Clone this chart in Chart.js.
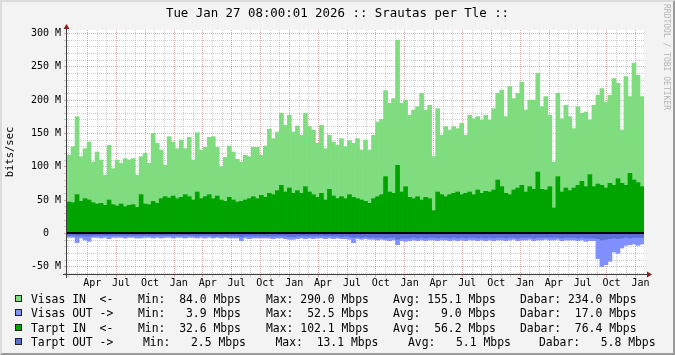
<!DOCTYPE html>
<html>
<head>
<meta charset="utf-8">
<script src="https://cdn.jsdelivr.net/npm/chart.js@4.4.1/dist/chart.umd.min.js"></script>
<style>
  html, body { margin: 0; padding: 0; background: #f3f3f3; }
  #wrap { position: relative; width: 675px; height: 355px; overflow: hidden; background: #f3f3f3;
          font-family: 'DejaVu Sans Mono', monospace; color: #000; }
  #chart { position: absolute; left: 0; top: 0; }
  #title { position: absolute; left: 0; top: 5px; width: 675px; text-align: center;
           font-size: 12.4px; line-height: 16px; white-space: pre; }
  #wm { position: absolute; left: 662px; top: 4px; font-size: 8px; color: #b4b4b4;
        writing-mode: vertical-rl; white-space: pre; }
  .row { position: absolute; left: 0; width: 675px; height: 14px; font-size: 11.4px;
         line-height: 14px; white-space: pre; }
  .row span { position: absolute; top: 0; }
  .row i { position: absolute; left: 15px; top: 3px; width: 5px; height: 5px; border: 1px solid #222; }
  #frame { position: absolute; left: 0; top: 0; width: 671px; height: 351px; border: 2px solid;
           border-color: #dcdcdc #9a9a9a #9a9a9a #dcdcdc; pointer-events: none; }
</style>
</head>
<body>
<div id="wrap">
  <canvas id="chart" width="675" height="355" style="width:675px;height:355px"></canvas>
  <div id="title">Tue Jan 27 08:00:01 2026 :: Srautas per Tle ::</div>
  <div id="wm">RRDTOOL / TOBI OETIKER</div>
  <div id="legend"></div>
  <div id="frame"></div>
</div>
<script>
// one value every ~4 px (about 12.7 days), Jan 2021 .. Jan 2026, in Mbps
const visasIn = [
  117,130,175,115,127,137,107,122,110,87,132,97,110,105,112,110,112,87,115,120,105,150,135,125,102,145,137,127,140,127,144,110,151,125,129,144,
  145,129,100,114,131,122,111,107,117,115,129,129,117,131,156,142,152,180,162,177,152,161,147,180,160,155,135,162,127,147,137,132,142,130,139,135,
  142,125,140,125,147,167,171,214,195,202,290,195,200,177,185,190,210,185,192,115,187,147,160,155,160,157,165,147,177,172,175,170,177,170,187,210,
  215,175,220,202,210,227,185,200,200,240,190,205,177,107,210,172,192,175,157,190,180,182,170,192,207,217,197,207,232,225,155,235,205,255,237,205
];
const tarptIn = [
  47,46,58,48,52,50,46,44,45,42,50,43,41,44,40,42,43,39,58,44,43,48,45,52,55,53,56,52,54,58,55,50,62,52,55,58,
  52,56,50,48,54,50,47,48,50,52,55,52,57,54,60,58,64,72,62,68,60,64,60,70,62,58,54,60,50,66,56,52,55,52,58,54,
  52,50,48,45,52,55,58,85,62,60,102,62,70,54,52,55,50,54,52,34,62,58,55,58,60,62,58,60,62,58,65,60,63,62,65,80,
  70,60,58,65,68,72,62,70,66,92,66,65,70,38,85,62,68,64,68,72,78,70,88,70,74,72,68,75,72,82,75,72,90,80,76,70
];
const visasOut = [
  6,6,14,7,10,12,6,6,7,6,8,6,6,6,7,6,6,7,7,6,6,7,6,7,6,6,7,6,6,7,6,6,7,6,7,6,
  7,6,7,6,7,7,7,11,7,8,7,7,7,7,7,8,7,7,8,9,9,8,7,8,7,8,7,7,8,7,8,7,8,8,9,14,
  8,9,8,9,9,10,9,10,11,10,17,11,12,11,10,11,10,11,10,10,11,10,10,11,10,11,10,11,10,10,11,10,11,10,11,10,
  10,11,10,9,11,10,10,9,11,10,10,9,10,10,9,11,10,10,10,11,10,12,11,11,38,50,47,42,28,30,22,18,17,16,18,16
];
const tarptOut = [
  3,3,4,3,4,4,3,3,3,3,3,3,3,3,3,3,3,3,3,3,3,3,3,3,3,3,3,3,3,3,3,3,4,3,3,3,
  4,4,4,4,4,4,4,5,4,4,4,4,4,4,4,4,4,4,4,5,5,4,4,4,4,4,4,4,4,4,4,4,5,4,5,6,
  5,6,5,6,6,6,6,7,6,6,9,7,7,7,6,7,6,7,6,6,7,6,6,7,6,7,6,7,6,6,7,6,7,6,7,6,
  6,7,6,6,7,6,6,6,7,6,6,6,6,6,6,7,6,6,6,7,6,7,7,7,8,10,9,8,7,8,7,6,7,6,6,6
];

const seriesNames = ['Visas IN  <-', 'Visas OUT ->', 'Tarpt IN  <-', 'Tarpt OUT ->'];
const seriesColors = ['#7fdd7f', '#8090ff', '#00a400', '#5a70d0'];
const statMin = [84.0, 3.9, 32.6, 2.5];
const statMax = [290.0, 52.5, 102.1, 13.1];
const statAvg = [155.1, 9.0, 56.2, 5.1];
const statNow = [234.0, 17.0, 76.4, 5.8];

const monthNames = ['Jan','Feb','Mar','Apr','May','Jun','Jul','Aug','Sep','Oct','Nov','Dec'];
const startMonth = 0.87;            // 27 Jan 2021, months since 1 Jan 2021
const spanMonths = 60;
const monthTicks = [];
for (let m = 1; m <= 60; m++) monthTicks.push(m);
const yTicks = [];
for (let v = -60; v <= 300; v += 10) yTicks.push(v);

const FONT = "'DejaVu Sans Mono', monospace";
const MINOR = 'rgba(140,140,140,0.42)';
const MAJOR = 'rgba(205,60,60,0.45)';

const step = spanMonths / visasIn.length;
const pts = (arr, sign) => arr.map((v, i) => ({ x: startMonth + (i + 0.5) * step, y: sign * v }));

// legend
const fmt = v => v.toFixed(1).padStart(5);
const cols = [[138, 266, 393, 520], [138, 266, 393, 520], [138, 266, 393, 520], [143, 275.5, 408, 539]];
const rowTop = [292, 306.3, 320.6, 334.9];
const legend = document.getElementById('legend');
seriesNames.forEach((name, k) => {
  const row = document.createElement('div');
  row.className = 'row';
  row.style.top = rowTop[k] + 'px';
  const c = cols[k];
  row.innerHTML =
    `<i style="background:${seriesColors[k]}"></i>` +
    `<span style="left:31px">${name.replace('<', '&lt;').replace('>', '&gt;')}</span>` +
    `<span style="left:${c[0]}px">Min: ${fmt(statMin[k])} Mbps</span>` +
    `<span style="left:${c[1]}px">Max: ${fmt(statMax[k])} Mbps</span>` +
    `<span style="left:${c[2]}px">Avg: ${fmt(statAvg[k])} Mbps</span>` +
    `<span style="left:${c[3]}px">Dabar: ${fmt(statNow[k])} Mbps</span>`;
  legend.appendChild(row);
});

// white canvas, zero rule, axes and arrows
const rrdFrame = {
  id: 'rrdFrame',
  beforeDraw(chart) {
    const { ctx, chartArea: a } = chart;
    ctx.save();
    ctx.fillStyle = '#ffffff';
    ctx.fillRect(a.left, a.top, a.right - a.left, a.bottom - a.top);
    ctx.restore();
  },
  afterDraw(chart) {
    const { ctx, chartArea: a, scales } = chart;
    const y0 = Math.round(scales.y.getPixelForValue(0));
    ctx.save();
    ctx.fillStyle = '#000';
    ctx.fillRect(a.left, y0 - 1, a.right - a.left, 2);
    const ax = a.left - 0.5, ay = a.bottom + 0.5;
    ctx.strokeStyle = '#404040';
    ctx.lineWidth = 1;
    ctx.beginPath();
    ctx.moveTo(ax, a.bottom + 4); ctx.lineTo(ax, a.top - 3);
    ctx.moveTo(a.left - 4, ay); ctx.lineTo(a.right + 3, ay);
    ctx.stroke();
    ctx.fillStyle = '#8a1c1c';
    ctx.beginPath();
    ctx.moveTo(ax, a.top - 6); ctx.lineTo(ax - 3, a.top - 1); ctx.lineTo(ax + 3, a.top - 1); ctx.closePath();
    ctx.fill();
    ctx.beginPath();
    ctx.moveTo(a.right + 8, ay); ctx.lineTo(a.right + 3, ay - 3); ctx.lineTo(a.right + 3, ay + 3); ctx.closePath();
    ctx.fill();
    ctx.restore();
  }
};

new Chart(document.getElementById('chart').getContext('2d'), {
  type: 'bar',
  data: {
    datasets: [
      { label: 'Tarpt IN', data: pts(tarptIn, 1), backgroundColor: seriesColors[2], order: 0 },
      { label: 'Tarpt OUT', data: pts(tarptOut, -1), backgroundColor: seriesColors[3], order: 1 },
      { label: 'Visas IN', data: pts(visasIn, 1), backgroundColor: seriesColors[0], order: 2 },
      { label: 'Visas OUT', data: pts(visasOut, -1), backgroundColor: seriesColors[1], order: 3 }
    ]
  },
  options: {
    responsive: false,
    animation: false,
    devicePixelRatio: 1,
    datasets: { bar: { grouped: false, categoryPercentage: 1, barPercentage: 1, borderWidth: 0 } },
    layout: { padding: { left: 0, top: 30, right: 31, bottom: 61 } },
    plugins: { legend: { display: false }, tooltip: { enabled: false } },
    scales: {
      x: {
        type: 'linear', min: startMonth, max: startMonth + spanMonths, offset: false, z: 1,
        afterBuildTicks: s => { s.ticks = monthTicks.map(v => ({ value: v })); },
        afterFit: s => { s.height = 20; },
        grid: { offset: false, tickLength: 3, color: c => (c.tick && c.tick.value % 3 === 0 ? MAJOR : MINOR) },
        border: { display: false, dash: [1, 1] },
        ticks: {
          autoSkip: false, maxRotation: 0, padding: 0, labelOffset: 4.8, color: '#000',
          font: { family: FONT, size: 10 },
          callback: v => (v % 3 === 0 ? monthNames[v % 12] : '')
        }
      },
      y: {
        min: -61, max: 305, z: 1,
        afterBuildTicks: s => { s.ticks = yTicks.map(v => ({ value: v })); },
        afterFit: s => { s.width = 67; },
        grid: { tickLength: 3, color: c => (c.tick && c.tick.value % 50 === 0 ? MAJOR : MINOR) },
        border: { display: false, dash: [1, 1] },
        ticks: {
          autoSkip: false, padding: 3, color: '#000', font: { family: FONT, size: 10 },
          callback: v => (v % 50 !== 0 ? '' : v === 0 ? '0  ' : v + ' M')
        },
        title: { display: true, text: 'bits/sec', color: '#000', font: { family: FONT, size: 10.5 }, padding: { top: 4, bottom: 0 } }
      }
    }
  },
  plugins: [rrdFrame]
});
</script>
</body>
</html>
